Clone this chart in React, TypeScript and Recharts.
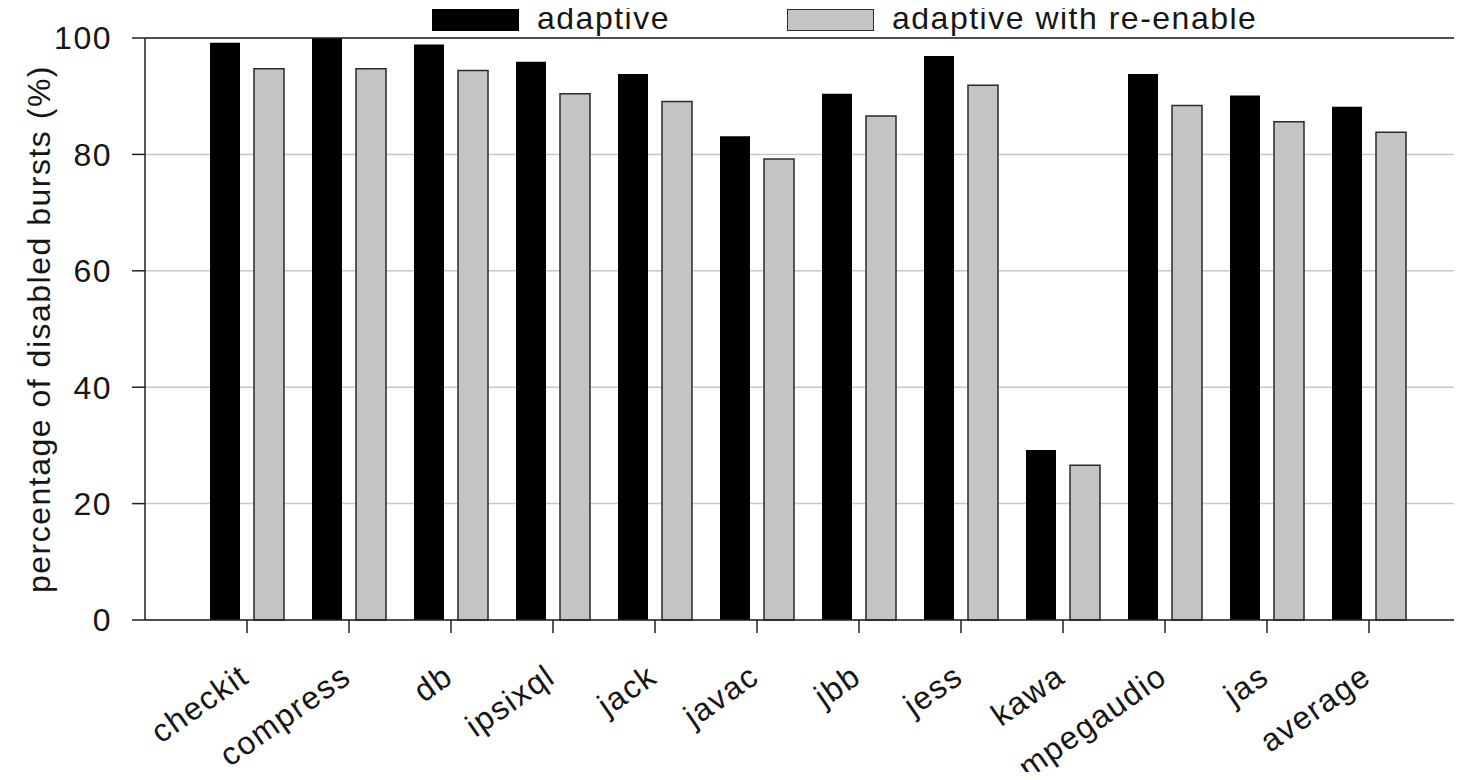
import React from "react";
import {
  Bar,
  BarChart,
  CartesianGrid,
  ReferenceLine,
  XAxis,
  YAxis,
} from "recharts";

const CATEGORIES = [
  "checkit",
  "compress",
  "db",
  "ipsixql",
  "jack",
  "javac",
  "jbb",
  "jess",
  "kawa",
  "mpegaudio",
  "jas",
  "average",
];
const ADAPTIVE = [99.2, 100, 98.9, 95.9, 93.8, 83.1, 90.4, 96.9, 29.2, 93.8, 90.1, 88.2];
const REENABLE = [94.7, 94.7, 94.4, 90.4, 89.1, 79.2, 86.6, 91.9, 26.6, 88.4, 85.6, 83.8];
const Y_TICKS = [0, 20, 40, 60, 80, 100];
const SERIES_NAMES = ["adaptive", "adaptive with re-enable"];
const Y_LABEL = "percentage of disabled bursts (%)";

const FONT = '"Liberation Sans", Arial, Helvetica, sans-serif';
const INK = "#161616";
const GREY = "#c5c3c6";

const data = CATEGORIES.map((name, i) => ({
  name,
  adaptive: ADAPTIVE[i],
  reenable: REENABLE[i],
}));

const textStyle = { fontFamily: FONT, fontSize: 32, letterSpacing: 1.5, fill: INK };

function XTick(props: any) {
  const { x, y, payload } = props;
  const ax = x + 4;
  const ay = y + 46;
  return (
    <text
      x={ax}
      y={ay}
      textAnchor="end"
      transform={`rotate(-35 ${ax} ${ay})`}
      style={textStyle}
    >
      {payload.value}
    </text>
  );
}

function YLabel(props: any) {
  const vb = props.viewBox || { x: 0, y: 38, width: 145, height: 582 };
  const lx = vb.x + 50;
  const ly = vb.y + vb.height / 2;
  return (
    <text
      x={lx}
      y={ly}
      textAnchor="middle"
      transform={`rotate(-90 ${lx} ${ly})`}
      style={textStyle}
    >
      {Y_LABEL}
    </text>
  );
}

function LegendBox() {
  const item = (left: number, fill: string, border: string, label: string) => (
    <div
      style={{
        position: "absolute",
        left,
        top: 8,
        display: "flex",
        alignItems: "center",
        height: 24,
      }}
    >
      <div
        style={{
          width: 87,
          height: 22,
          background: fill,
          border: border,
          boxSizing: "border-box",
        }}
      />
      <span
        style={{
          marginLeft: 18,
          fontFamily: FONT,
          fontSize: 32,
          letterSpacing: 1.5,
          color: INK,
          lineHeight: "24px",
          position: "relative",
          top: -2,
        }}
      >
        {label}
      </span>
    </div>
  );
  return (
    <>
      {item(432, "#000", "none", SERIES_NAMES[0])}
      {item(787, GREY, "1.5px solid #2a2a2a", SERIES_NAMES[1])}
    </>
  );
}

export default function App() {
  return (
    <div
      style={{
        margin: -8,
        width: 1462,
        height: 780,
        overflow: "hidden",
        position: "relative",
        background: "#fff",
      }}
    >
      <BarChart
        width={1462}
        height={780}
        data={data}
        margin={{ top: 38, right: 0, bottom: 0, left: 0 }}
        barSize={30}
        barGap={14}
      >
        <CartesianGrid vertical={false} stroke="#c8c8c8" strokeWidth={1.5} />
        <XAxis
          dataKey="name"
          interval={0}
          padding={{ left: 51, right: 42 }}
          tickSize={13}
          axisLine={{ stroke: "#222", strokeWidth: 1.5 }}
          tickLine={{ stroke: "#222", strokeWidth: 1.5 }}
          tick={<XTick />}
          height={160}
        />
        <YAxis
          width={145}
          domain={[0, 100]}
          ticks={Y_TICKS}
          interval={0}
          tickSize={13}
          tickMargin={20}
          axisLine={{ stroke: "#222", strokeWidth: 1.5 }}
          tickLine={{ stroke: "#222", strokeWidth: 1.5 }}
          tick={textStyle}
          label={<YLabel />}
        />
        <ReferenceLine y={100} stroke="#222" strokeWidth={1.5} />
        <Bar
          dataKey="adaptive"
          name={SERIES_NAMES[0]}
          fill="#000"
          isAnimationActive={false}
        />
        <Bar
          dataKey="reenable"
          name={SERIES_NAMES[1]}
          fill={GREY}
          stroke="#2a2a2a"
          strokeWidth={1.5}
          isAnimationActive={false}
        />
      </BarChart>
      <LegendBox />
    </div>
  );
}
